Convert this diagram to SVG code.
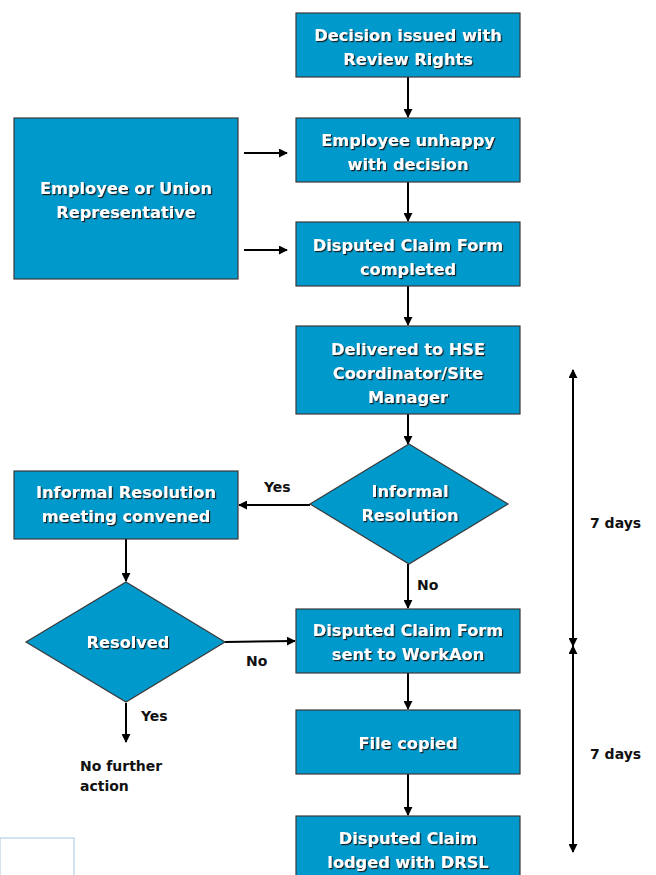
<svg xmlns="http://www.w3.org/2000/svg" width="656" height="875" viewBox="0 0 656 875">
<defs>
<marker id="ah" viewBox="0 0 10 10" refX="9" refY="5" markerWidth="4.5" markerHeight="4.5" orient="auto-start-reverse" markerUnits="strokeWidth">
<path d="M0,0 L10,5 L0,10 z" fill="#000"/>
</marker>
<filter id="sh" x="-10%" y="-10%" width="130%" height="140%">
<feDropShadow dx="1.2" dy="1.2" stdDeviation="0" flood-color="#1a1a1a" flood-opacity="1"/>
</filter>
</defs>
<style>
.box{fill:#0099CC;stroke:#3a3a3a;stroke-width:1.2}
.t{font-family:"DejaVu Sans",Verdana,sans-serif;font-weight:bold;font-size:16.2px;fill:#fff;text-anchor:middle;filter:url(#sh)}
.lab{font-family:"DejaVu Sans",Verdana,sans-serif;font-weight:bold;font-size:14px;fill:#111}
.c{stroke:#000;stroke-width:2;fill:none;marker-end:url(#ah)}
.d{stroke:#000;stroke-width:2;fill:none;marker-end:url(#ah);marker-start:url(#ah)}
</style>
<rect width="656" height="875" fill="#fff"/>
<g id="connectors">
<line class="c" x1="408" y1="77" x2="408" y2="117"/>
<line class="c" x1="408" y1="182" x2="408" y2="221"/>
<line class="c" x1="408" y1="286" x2="408" y2="325"/>
<line class="c" x1="408" y1="414" x2="408" y2="444"/>
<line class="c" x1="244" y1="153" x2="287" y2="153"/>
<line class="c" x1="244" y1="250" x2="287" y2="250"/>
<line class="c" x1="310" y1="505" x2="239" y2="505"/>
<line class="c" x1="408" y1="564" x2="408" y2="608"/>
<line class="c" x1="126" y1="539" x2="126" y2="581"/>
<line class="c" x1="225" y1="642" x2="295" y2="641"/>
<line class="c" x1="126" y1="703" x2="126" y2="742"/>
<line class="c" x1="408" y1="673" x2="408" y2="709"/>
<line class="c" x1="408" y1="774" x2="408" y2="815"/>
<line class="d" x1="573" y1="370" x2="573" y2="646"/>
<line class="d" x1="573" y1="646" x2="573" y2="852"/>
</g>
<g id="n1"><rect class="box" x="296" y="13" width="224" height="64"/><text class="t" x="408" y="41">Decision issued with</text><text class="t" x="408" y="65">Review Rights</text></g>
<g id="n2"><rect class="box" x="296" y="118" width="224" height="64"/><text class="t" x="408" y="146">Employee unhappy</text><text class="t" x="408" y="170">with decision</text></g>
<g id="n0"><rect class="box" x="14" y="118" width="224" height="161"/><text class="t" x="126" y="194">Employee or Union</text><text class="t" x="126" y="218">Representative</text></g>
<g id="n3"><rect class="box" x="296" y="222" width="224" height="64"/><text class="t" x="408" y="251">Disputed Claim Form</text><text class="t" x="408" y="275">completed</text></g>
<g id="n4"><rect class="box" x="296" y="326" width="224" height="88"/><text class="t" x="408" y="355">Delivered to HSE</text><text class="t" x="408" y="379">Coordinator/Site</text><text class="t" x="408" y="403">Manager</text></g>
<g id="n5"><polygon class="box" points="409,444 508,504 409,564 310,504"/><text class="t" x="410" y="497">Informal</text><text class="t" x="410" y="521">Resolution</text></g>
<g id="n6"><rect class="box" x="14" y="471" width="224" height="68"/><text class="t" x="126" y="498">Informal Resolution</text><text class="t" x="126" y="522">meeting convened</text></g>
<g id="n7"><polygon class="box" points="126,582 225,642 126,702 26,642"/><text class="t" x="128" y="648">Resolved</text></g>
<g id="n8"><rect class="box" x="296" y="609" width="224" height="64"/><text class="t" x="408" y="636">Disputed Claim Form</text><text class="t" x="408" y="660">sent to WorkAon</text></g>
<g id="n9"><rect class="box" x="296" y="710" width="224" height="64"/><text class="t" x="408" y="749">File copied</text></g>
<g id="n10"><rect class="box" x="296" y="816" width="224" height="64"/><text class="t" x="408" y="844">Disputed Claim</text><text class="t" x="408" y="868">lodged with DRSL</text></g>
<g id="labels">
<text class="lab" x="264" y="492">Yes</text>
<text class="lab" x="417" y="590">No</text>
<text class="lab" x="246" y="666">No</text>
<text class="lab" x="141" y="721">Yes</text>
<text class="lab" x="80" y="771">No further</text>
<text class="lab" x="80" y="791">action</text>
<text class="lab" x="590" y="528">7 days</text>
<text class="lab" x="590" y="759">7 days</text>
</g>
<rect x="0" y="838" width="74" height="45" fill="none" stroke="#a8c8e0" stroke-width="1"/>
</svg>
